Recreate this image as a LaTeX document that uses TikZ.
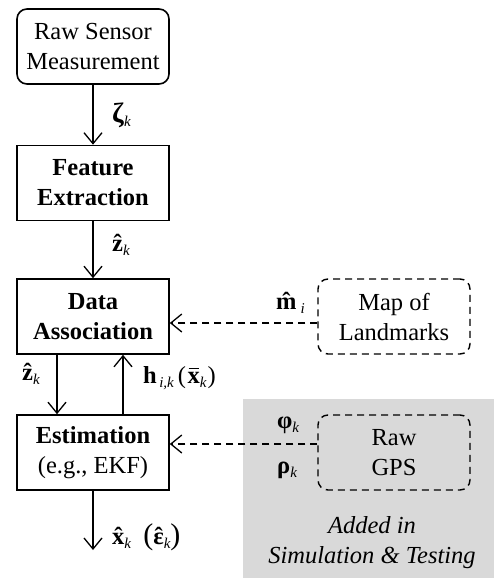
\documentclass[tikz,border=0pt]{standalone}
\usepackage{fontspec}
\setmainfont{Liberation Serif}
\usetikzlibrary{arrows.meta}
\definecolor{panel}{HTML}{D9D9D9}
\newcommand\sbs[1]{\raisebox{-4pt}{\fontsize{15}{15}\selectfont\itshape #1}}
\newcommand\bigpar[1]{{\fontsize{30}{30}\selectfont #1}}
\newcommand\hb[1]{\leavevmode\ooalign{\textbf{#1}\cr\hidewidth\textbf{ˆ}\hidewidth\cr}}
\newcommand\barb[1]{\leavevmode\ooalign{\textbf{#1}\cr\hidewidth\raisebox{0.58em}{\rule{0.42em}{1.4pt}}\hidewidth\cr}}
\begin{document}
\begin{tikzpicture}[x=1pt,y=-1pt,
 font=\fontsize{24.5}{30}\selectfont,
 box/.style={draw, line width=1.6pt, minimum width=152pt, minimum height=75pt, align=center, inner sep=0pt},
 bbox/.style={box, font=\fontsize{24.5}{30}\selectfont\bfseries},
 rbox/.style={box, rounded corners=10pt},
 dbox/.style={box, rounded corners=10pt, dash pattern=on 7pt off 5pt, line width=1.4pt},
 arr/.style={line width=1.3pt, -{Straight Barb[length=11pt,width=18pt,line width=1.3pt]}},
 darr/.style={arr, dash pattern=on 7pt off 5pt},
 lbl/.style={anchor=west, inner sep=0pt},
 note/.style={align=center, inner sep=0pt, font=\fontsize{24.5}{30}\selectfont\itshape}]
\useasboundingbox (0,0) rectangle (494,578);
\fill[panel] (243,399) rectangle (494,578);
\node[rbox] (raw) at (93,46.5) {Raw Sensor\\Measurement};
\node[bbox] (feat) at (93,183) {Feature\\Extraction};
\node[bbox] (data) at (93,316.5) {Data\\Association};
\node[box] (est) at (93,452.5) {\textbf{Estimation}\\(e.g., EKF)};
\node[dbox] (map) at (394,316.5) {Map of\\Landmarks};
\node[dbox] (gps) at (394,452.5) {Raw\\GPS};
\coordinate (out) at (93,550);
\draw[arr] (raw) -- (feat);
\draw[arr] (feat) -- (data);
\draw[arr] ([xshift=-36pt]data.south) -- ([xshift=-36pt]est.north);
\draw[arr] ([xshift=30pt]est.north) -- ([xshift=30pt]data.south);
\draw[arr] (est) -- (out);
\draw[darr] ([yshift=-6.5pt]map.west) -- ([yshift=-6.5pt]data.east);
\draw[darr] ([yshift=8.5pt]gps.west) -- ([yshift=8.5pt]est.east);
\node[lbl] (lzeta) at (112,115) {\fontsize{28}{28}\selectfont\textbf{ζ}\sbs{k}};
\node[lbl] (lz1) at (112,248) {\hb{z}\sbs{k}};
\node[lbl] (lz2) at (22,377) {\hb{z}\sbs{k}};
\node[lbl] (lh) at (143,378) {\textbf{h}\sbs{\,i,k}\,(\kern1.5pt\barb{x}\sbs{k}\kern1pt)};
\node[lbl] (lx) at (112,537) {\hb{x}\sbs{k}\enspace\bigpar{(}\hb{ε}\sbs{k}\bigpar{)}};
\node[anchor=east, inner sep=0pt] (lm) at (305,306) {\hb{m}\,\sbs{i}};
\node[lbl] (lphi) at (277,425) {\textbf{φ}\sbs{k}};
\node[lbl] (lrho) at (277,470) {\textbf{ρ}\sbs{k}};
\node[note] (added) at (372,543) {Added in\\Simulation \& Testing};
\end{tikzpicture}
\end{document}
